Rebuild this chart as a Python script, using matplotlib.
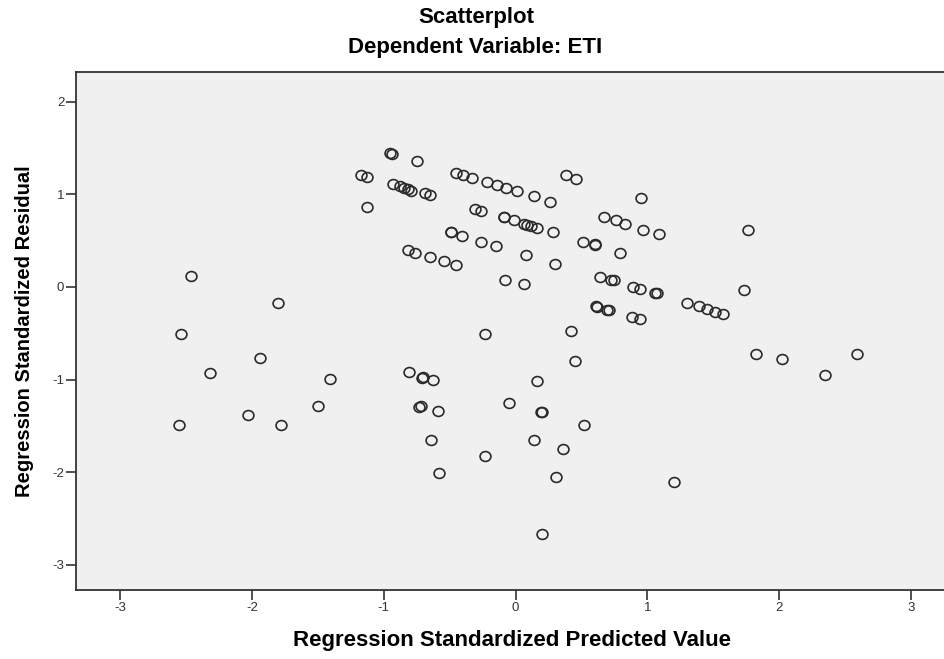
#!/usr/bin/env python3
# -*- coding: utf-8 -*-

"""
回帰の標準化残差 vs 標準化予測値の散布図 (SPSS風)
"""

import matplotlib
matplotlib.use( 'Agg' )
import matplotlib.pyplot as plt
from matplotlib.path import Path

# 標準化予測値 (x)
pred = [
    -2.46, -1.80, -2.54, -1.94, -2.32, -1.41, -1.50, -2.03, -2.55, -1.78,
    -0.95, -0.94, -0.75, -1.17, -1.13, -1.13,
    -0.93, -0.88, -0.85, -0.82, -0.79, -0.69, -0.65,
    -0.45, -0.40, -0.33, -0.22, -0.14, -0.07, 0.01, 0.14, 0.26, 0.38, 0.46,
    -0.31, -0.26, -0.09, -0.09, -0.01, 0.06, 0.09, 0.12, 0.16, 0.28,
    -0.49, -0.49, -0.41, -0.26, -0.15, -0.82, -0.76, -0.65, -0.54, -0.45,
    0.08, 0.30, -0.08, 0.06,
    0.67, 0.76, 0.83, 0.95, 0.97, 1.09, 1.76,
    0.51, 0.60, 0.60, 0.79,
    0.64, 0.72, 0.75, 0.89, 0.94, 1.06, 1.07, 1.73,
    1.30, 1.39, 1.45, 1.51, 1.57,
    0.61, 0.62, 0.69, 0.71, 0.88, 0.94,
    1.82, 2.02, 2.59, 2.35,
    -0.23, 0.42, 0.45,
    -0.81, -0.70, -0.71, -0.63, 0.16,
    -0.73, -0.72, -0.59, -0.05, 0.19, 0.20, 0.52,
    -0.64, 0.14, 0.36, -0.23, -0.58, 0.31, 1.20, 0.20,
]

# 標準化残差 (y)
resid = [
    0.12, -0.17, -0.51, -0.77, -0.93, -0.99, -1.28, -1.38, -1.49, -1.49,
    1.45, 1.44, 1.36, 1.21, 1.19, 0.86,
    1.11, 1.09, 1.07, 1.06, 1.04, 1.01, 0.99,
    1.23, 1.21, 1.18, 1.13, 1.10, 1.07, 1.04, 0.98, 0.92, 1.21, 1.17,
    0.84, 0.82, 0.75, 0.75, 0.72, 0.68, 0.67, 0.66, 0.64, 0.59,
    0.59, 0.59, 0.55, 0.49, 0.44, 0.40, 0.37, 0.32, 0.28, 0.24,
    0.35, 0.25, 0.08, 0.03,
    0.76, 0.72, 0.68, 0.96, 0.62, 0.57, 0.62,
    0.49, 0.46, 0.45, 0.37,
    0.11, 0.07, 0.07, 0.00, -0.02, -0.07, -0.07, -0.03,
    -0.17, -0.21, -0.24, -0.27, -0.29,
    -0.21, -0.22, -0.25, -0.25, -0.32, -0.35,
    -0.72, -0.78, -0.72, -0.95,
    -0.51, -0.47, -0.80,
    -0.92, -0.97, -0.98, -1.00, -1.01,
    -1.29, -1.28, -1.34, -1.25, -1.35, -1.35, -1.49,
    -1.65, -1.65, -1.75, -1.82, -2.01, -2.05, -2.10, -2.67,
]

x_ticks = [-3, -2, -1, 0, 1, 2, 3]
y_ticks = [-3, -2, -1, 0, 1, 2]

plt.rcParams['font.family'] = ['Liberation Sans', 'DejaVu Sans']
plt.rcParams['axes.unicode_minus'] = False

# 元画像は横に少し引き伸ばされているので、マーカーもやや横長にする
circ = Path.unit_circle()
ellipse = Path( circ.vertices * [1.1, 1.0], circ.codes )

fig = plt.figure( figsize=( 9.44, 6.59 ), dpi=100 )
# 右端は画像で切れている
ax = fig.add_axes([ 76 / 944, 1 - 590 / 659, 872 / 944, 518 / 659 ])
ax.set_facecolor( '#f0f0f0' )

ax.plot( pred, resid, linestyle='none', marker=ellipse, markersize=7.8,
         markerfacecolor='none', markeredgecolor='#2a2a2a', markeredgewidth=1.2 )

ax.set_xlim( -3.335, 3.28 )
ax.set_ylim( -3.27, 2.32 )
ax.set_xticks( x_ticks )
ax.set_yticks( y_ticks )
ax.tick_params( direction='out', length=7, width=1.2, labelsize=9.5,
                color='#333333', labelcolor='#333333', pad=1.5 )
for sp in ax.spines.values():
    sp.set_linewidth( 1.3 )
    sp.set_color( '#333333' )

ax.set_xlabel( 'Regression Standardized Predicted Value', fontsize=16,
               fontweight='bold', labelpad=12 )
ax.set_ylabel( 'Regression Standardized Residual', fontsize=14.5,
               fontweight='bold', labelpad=13 )

fig.text( 476 / 944, 1 - 18 / 659, 'Scatterplot', ha='center', va='center',
          fontsize=16, fontweight='bold' )
fig.text( 475 / 944, 1 - 48 / 659, 'Dependent Variable: ETI', ha='center', va='center',
          fontsize=16, fontweight='bold' )

fig.savefig( 'out.png', dpi=100 )
